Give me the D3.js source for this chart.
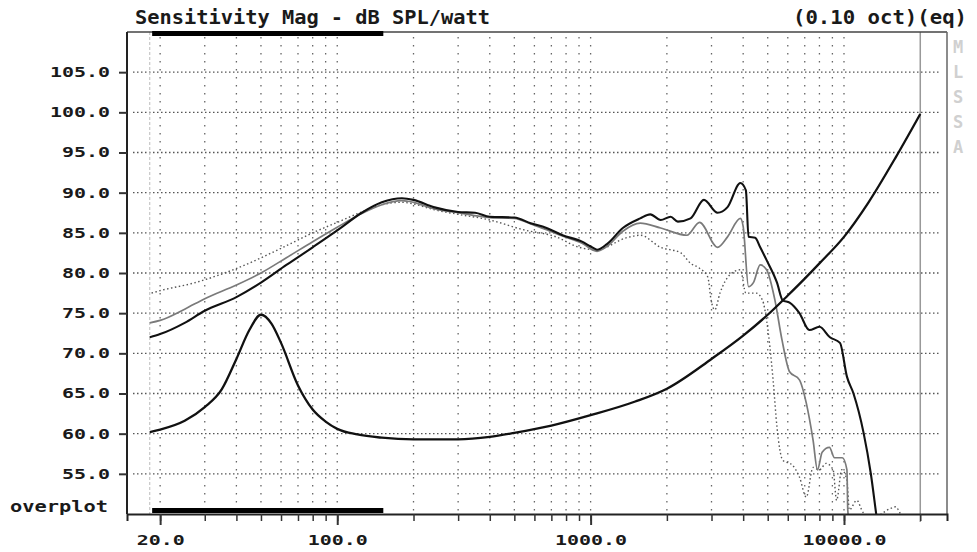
<!DOCTYPE html>
<html><head><meta charset="utf-8">
<script src="https://cdn.jsdelivr.net/npm/d3@7"></script>
<style>
html,body{margin:0;padding:0;background:#fff;}
svg{display:block;}
text{font-family:"DejaVu Sans Mono","Liberation Mono",monospace;fill:#1a1a1a;}
</style></head>
<body><svg id="chart" width="977" height="552"></svg>
<script>
// ---------- data ----------
const titleText = "Sensitivity Mag - dB SPL/watt";
const smoothingText = "(0.10 oct)(eq)";
const overplotText = "overplot";
const brandLetters = ["M","L","S","S","A"];

const xGridValues = [20,30,40,50,60,70,80,90,100,200,300,400,500,600,700,800,900,1000,2000,3000,4000,5000,6000,7000,8000,9000,10000,20000];
const xLabelValues = [20,100,1000,10000];
const yTickValues = [55,60,65,70,75,80,85,90,95,100,105];
const markerRange = [18.6,152];
const dataStartFreq = 18.2;
const upperLimitFreq = 20000;

// on-axis response (black)
const onAxisFreq = [18.2,20,25,30,40,50,63,80,100,125,150,180,200,240,300,350,400,500,580,670,775,925,1000,1060,1160,1340,1570,1720,1890,2070,2210,2480,2800,3170,3470,3900,4100,4200,4460,4670,4950,5440,5730,6100,6670,7300,8000,8800,9640,10270,10900,11950,12750,13400,13800];
const onAxisDb   = [72.0,72.4,73.8,75.3,77.0,78.8,81.0,83.2,85.3,87.5,88.8,89.3,89.1,88.2,87.6,87.5,87.0,86.9,86.2,85.6,84.7,83.9,83.3,82.9,83.6,85.6,86.8,87.3,86.6,87.0,86.4,86.8,89.1,87.5,88.2,91.2,90.3,84.5,84.4,83.2,81.6,78.8,76.6,76.3,75.0,72.9,73.3,72.0,71.3,67.1,65.0,60.1,55.1,50.0,47.0];

// off-axis response (grey)
const offAxisFreq = [18.2,20,25,30,40,50,63,80,100,125,150,180,200,240,300,400,500,580,670,775,925,1060,1160,1340,1570,1890,2400,2690,3170,3470,3900,4000,4200,4390,4670,4950,5340,5690,6100,6670,7100,7550,7860,8200,8760,9170,9850,10270,10350,10600];
const offAxisDb   = [73.8,74.1,75.5,76.8,78.5,80.0,81.9,83.9,85.7,87.4,88.5,89.0,88.8,88.0,87.5,86.9,86.8,86.1,85.4,84.6,83.7,82.7,83.3,85.2,86.2,85.6,84.7,86.3,83.2,84.5,86.8,85.8,78.3,78.8,81.0,80.4,76.6,71.7,67.7,66.7,63.8,59.2,55.5,57.7,58.3,57.0,57.0,55.5,50.5,48.0];

// wide off-axis response (dotted)
const wideFreq = [18.5,20,27.5,41,64,80,100,125,150,180,200,240,300,400,540,730,900,1060,1390,1570,1890,2270,2480,2690,2900,2990,3090,3240,3550,3900,4100,4500,4770,4950,5250,5440,5730,6250,6670,7100,7550,8000,8500,9060,9350,9800,10270,10500,11230,11900,13000,15300,16000,16650,17500];
const wideDb   = [77.5,77.8,78.8,80.7,83.5,85.0,86.3,87.6,88.5,88.8,88.6,87.9,87.3,86.6,85.4,84.5,83.2,82.9,84.4,84.7,83.2,82.5,81.2,80.6,79.5,76.6,75.4,77.5,79.8,80.4,77.5,77.5,76.6,74.1,66.7,60.8,56.7,56.1,54.6,52.1,55.8,55.5,56.3,55.5,51.7,55.5,54.2,50.5,51.7,50.2,49.6,50.7,50.9,50.1,49.0];

// impedance-like curve (black, rising)
const impFreq = [18.2,20,25,30,35,40,45,50,55,60,70,80,90,100,120,150,200,300,400,500,700,1000,1500,2000,3000,4000,5000,6000,7000,8000,10000,12500,16000,20000];
const impDb   = [60.2,60.5,61.6,63.3,65.5,69.3,72.9,74.8,73.7,71.3,66.0,63.0,61.5,60.6,59.9,59.5,59.3,59.3,59.6,60.1,61.0,62.3,64.0,65.6,69.3,72.2,74.8,77.2,79.3,81.2,84.5,88.8,94.4,99.8];

// ---------- chart ----------
const svg = d3.select("#chart");
const L = 127, R = 947, T = 32, B = 514;
const x = d3.scaleLog().domain([14.8, 25500]).range([L, R]);
const y = d3.scaleLinear().domain([50, 110]).range([B, T]);

svg.append("defs").append("clipPath").attr("id","plotclip")
  .append("rect").attr("x", L).attr("y", T).attr("width", R - L).attr("height", B - T);

// vertical dotted grid
svg.append("g").selectAll("line").data(xGridValues.filter(v => v !== upperLimitFreq)).join("line")
  .attr("x1", d => x(d)).attr("x2", d => x(d))
  .attr("y1", T + 5).attr("y2", B)
  .attr("stroke", "#666").attr("stroke-width", 1.3)
  .attr("stroke-dasharray", "1.5,6.5");

// horizontal dotted grid
svg.append("g").selectAll("line").data(yTickValues).join("line")
  .attr("x1", L + 6).attr("x2", R - 8)
  .attr("y1", d => y(d)).attr("y2", d => y(d))
  .attr("stroke", "#555").attr("stroke-width", 1.3)
  .attr("stroke-dasharray", "1.5,2.5");

// data start line & upper limit line
svg.append("line").attr("x1", x(dataStartFreq)).attr("x2", x(dataStartFreq))
  .attr("y1", T).attr("y2", B).attr("stroke", "#bbb").attr("stroke-width", 1).attr("stroke-dasharray", "3,2");
svg.append("line").attr("x1", x(upperLimitFreq)).attr("x2", x(upperLimitFreq))
  .attr("y1", T).attr("y2", B + 8).attr("stroke", "#999").attr("stroke-width", 1.5);

// curves
const plot = svg.append("g").attr("clip-path", "url(#plotclip)");
const mkLine = (fs) => d3.line().x((d, i) => x(fs[i])).y(d => y(d)).curve(d3.curveMonotoneX);

plot.append("path").datum(wideDb).attr("d", mkLine(wideFreq))
  .attr("fill", "none").attr("stroke", "#555").attr("stroke-width", 1.4).attr("stroke-dasharray", "1.5,2.5");
plot.append("path").datum(offAxisDb).attr("d", mkLine(offAxisFreq))
  .attr("fill", "none").attr("stroke", "#7a7a7a").attr("stroke-width", 1.7);
plot.append("path").datum(onAxisDb).attr("d", mkLine(onAxisFreq))
  .attr("fill", "none").attr("stroke", "#111").attr("stroke-width", 2.1);
plot.append("path").datum(impDb).attr("d", mkLine(impFreq))
  .attr("fill", "none").attr("stroke", "#111").attr("stroke-width", 2.3);

// frame
svg.append("line").attr("x1", L).attr("x2", R).attr("y1", T).attr("y2", T).attr("stroke", "#444").attr("stroke-width", 1.5);
svg.append("line").attr("x1", R).attr("x2", R).attr("y1", T).attr("y2", B).attr("stroke", "#666").attr("stroke-width", 1.5);

// marker bars
svg.append("rect").attr("x", x(markerRange[0])).attr("y", T - 1).attr("width", x(markerRange[1]) - x(markerRange[0])).attr("height", 5).attr("fill", "#000");
svg.append("rect").attr("x", x(markerRange[0])).attr("y", B - 6).attr("width", x(markerRange[1]) - x(markerRange[0])).attr("height", 5).attr("fill", "#000");

// x axis (minor ticks)
svg.append("g").attr("transform", `translate(0,${B})`)
  .call(d3.axisBottom(x).tickValues(xGridValues).tickSize(7).tickFormat(""))
  .call(g => g.select(".domain").attr("stroke", "#222").attr("stroke-width", 2))
  .call(g => g.selectAll(".tick line").attr("stroke", "#333").attr("stroke-width", 1.5));
// x axis (major ticks + labels)
const xFmt = d3.format(".1f");
svg.append("g").attr("transform", `translate(0,${B})`)
  .call(d3.axisBottom(x).tickValues(xLabelValues).tickSize(11).tickPadding(10).tickFormat(xFmt))
  .call(g => g.select(".domain").remove())
  .call(g => g.selectAll(".tick line").attr("stroke", "#333").attr("stroke-width", 2))
  .call(g => g.selectAll(".tick text")
    .attr("font-family", "DejaVu Sans Mono").attr("font-weight", "bold").attr("font-size", 14)
    .attr("fill", "#222")
    .attr("textLength", d => xFmt(d).length * 12).attr("lengthAdjust", "spacingAndGlyphs"));

// y axis
const yFmt = d3.format(".1f");
svg.append("g").attr("transform", `translate(${L},0)`)
  .call(d3.axisLeft(y).tickValues(yTickValues).tickSize(8).tickPadding(10).tickFormat(yFmt))
  .call(g => g.select(".domain").attr("stroke", "#222").attr("stroke-width", 2).attr("d", `M0,${T}V${B}`))
  .call(g => g.selectAll(".tick line").attr("stroke", "#333").attr("stroke-width", 2))
  .call(g => g.selectAll(".tick text")
    .attr("font-family", "DejaVu Sans Mono").attr("font-weight", "bold").attr("font-size", 14)
    .attr("fill", "#222").attr("x", -17)
    .attr("textLength", d => yFmt(d).length * 12).attr("lengthAdjust", "spacingAndGlyphs"));

// titles
svg.append("text").attr("x", 135).attr("y", 24).attr("font-size", 19).attr("font-weight", "bold")
  .attr("textLength", 355).attr("lengthAdjust", "spacingAndGlyphs").text(titleText);
svg.append("text").attr("x", 793).attr("y", 24).attr("font-size", 19).attr("font-weight", "bold")
  .attr("textLength", 174).attr("lengthAdjust", "spacingAndGlyphs").text(smoothingText);
svg.append("text").attr("x", 10).attr("y", 512).attr("font-size", 15).attr("font-weight", "bold")
  .attr("fill", "#222")
  .attr("textLength", 98).attr("lengthAdjust", "spacingAndGlyphs").text(overplotText);

// brand letters
svg.append("g").selectAll("text").data(brandLetters).join("text")
  .attr("x", 958).attr("y", (d, i) => 53 + i * 25)
  .attr("text-anchor", "middle").attr("font-size", 17).attr("font-weight", "bold")
  .style("fill", "#d0d0d0").text(d => d);
</script></body></html>
